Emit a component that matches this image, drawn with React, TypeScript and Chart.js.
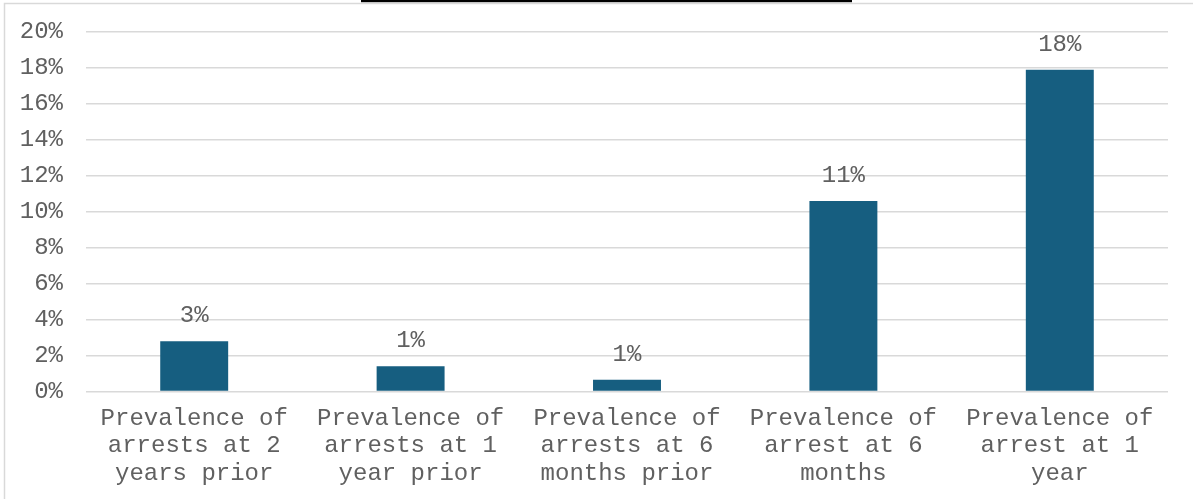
import React, { useEffect, useRef } from "react";
import { Chart, registerables } from "chart.js";

Chart.register(...registerables);

const categories: string[][] = [
  ["Prevalence of", "arrests at 2", "years prior"],
  ["Prevalence of", "arrests at 1", "year prior"],
  ["Prevalence of", "arrests at 6", "months prior"],
  ["Prevalence of", "arrest at 6", "months"],
  ["Prevalence of", "arrest at 1", "year"],
];
const prevalence: number[] = [2.8, 1.4, 0.65, 10.6, 17.9];
const yTicks: number[] = [0, 2, 4, 6, 8, 10, 12, 14, 16, 18, 20];

const FONT = "'Liberation Mono', 'Courier New', monospace";
const TEXT = "#606060";

export default function App() {
  const ref = useRef<HTMLCanvasElement | null>(null);
  useEffect(() => {
    if (!ref.current) return;
    const frame = {
      id: "frame",
      beforeDraw(chart: any) {
        const ctx = chart.ctx;
        ctx.save();
        ctx.fillStyle = "#ffffff";
        ctx.fillRect(0, 0, chart.width, chart.height);
        ctx.strokeStyle = "#d9d9d9";
        ctx.lineWidth = 1.5;
        ctx.beginPath();
        ctx.moveTo(4.5, chart.height);
        ctx.lineTo(4.5, 3.5);
        ctx.lineTo(chart.width, 3.5);
        ctx.stroke();
        ctx.fillStyle = "#000000";
        ctx.fillRect(361, 0, 491, 2.2);
        ctx.restore();
      },
    };
    const labels = {
      id: "valueLabels",
      afterDatasetsDraw(chart: any) {
        const ctx = chart.ctx;
        const meta = chart.getDatasetMeta(0);
        ctx.save();
        ctx.font = `24px ${FONT}`;
        ctx.fillStyle = TEXT;
        ctx.textAlign = "center";
        ctx.textBaseline = "alphabetic";
        meta.data.forEach((bar: any, i: number) => {
          const v = chart.data.datasets[0].data[i] as number;
          ctx.fillText(`${Math.round(v)}%`, bar.x, bar.y - 19);
        });
        ctx.restore();
      },
    };
    const chart = new Chart(ref.current, {
      type: "bar",
      data: {
        labels: categories,
        datasets: [
          {
            data: prevalence,
            backgroundColor: "#165E80",
            borderWidth: 0,
            categoryPercentage: 1,
            barPercentage: 0.314,
          },
        ],
      },
      options: {
        responsive: false,
        animation: false,
        layout: { padding: { top: 32, right: 25, bottom: 0, left: 0 } },
        plugins: {
          legend: { display: false },
          tooltip: { enabled: false },
        },
        scales: {
          x: {
            grid: { display: false, drawTicks: false },
            border: { display: false },
            ticks: {
              color: TEXT,
              font: { family: FONT, size: 24, lineHeight: 1.15 },
              padding: 13,
              maxRotation: 0,
              autoSkip: false,
            },
            afterFit(scale: any) {
              scale.height = 107.5;
            },
          },
          y: {
            min: 0,
            max: 20,
            afterBuildTicks(scale: any) {
              scale.ticks = yTicks.map((v) => ({ value: v }));
            },
            grid: { color: "#d9d9d9", lineWidth: 1.6, drawTicks: false },
            border: { display: false },
            ticks: {
              color: TEXT,
              font: { family: FONT, size: 24, lineHeight: 1 },
              padding: 23,
              callback: (v: any) => `${v}%`,
            },
            afterFit(scale: any) {
              scale.width = 86;
              scale.paddingTop = 0;
              scale.paddingBottom = 0;
            },
          },
        },
      },
      plugins: [frame, labels],
    });
    return () => chart.destroy();
  }, []);
  return (
    <div style={{ position: "fixed", left: 0, top: 0, width: 1193, height: 499 }}>
      <canvas ref={ref} width={1193} height={499} />
    </div>
  );
}
